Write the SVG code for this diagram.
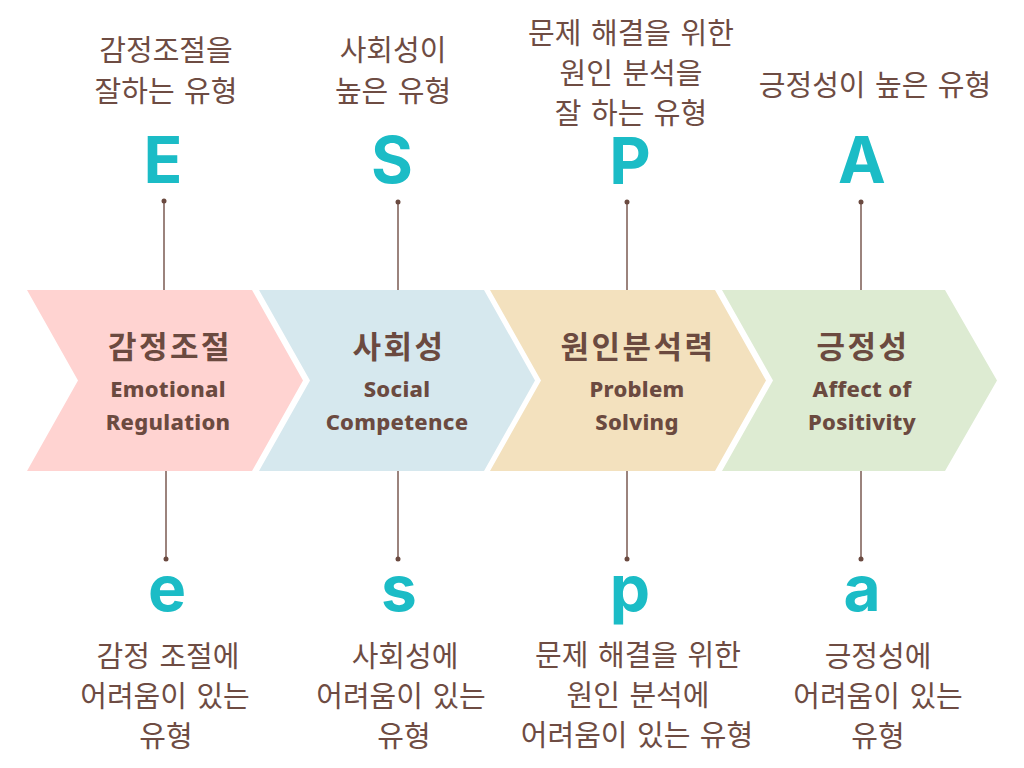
<svg xmlns="http://www.w3.org/2000/svg" width="1024" height="768" viewBox="0 0 1024 768">
<style>
.t{font-family:"Noto Sans CJK KR","Noto Sans",sans-serif;font-size:29px;fill:#6E4C43;text-anchor:middle;word-spacing:3px}
.big{font-family:Inter,"Noto Sans",sans-serif;font-weight:700;font-size:64px;fill:#1BBCC6;text-anchor:middle}
.ko{font-family:"Noto Sans CJK KR",sans-serif;font-weight:700;font-size:31px;fill:#6B4A40;text-anchor:middle;letter-spacing:2.5px}
.en{font-family:"Noto Sans","Noto Sans CJK KR",sans-serif;font-weight:800;font-size:22px;fill:#6B4A40;text-anchor:middle;letter-spacing:0.3px}
.ln{stroke:#7A5A52;stroke-width:1.5;fill:none}
.dot{fill:#6B4A40}
</style>
<rect width="1024" height="768" fill="#FFFFFF"/>
<g id="connectors">
<line class="ln" x1="164" y1="201" x2="164" y2="290"/><circle class="dot" cx="164" cy="201" r="2.5"/>
<line class="ln" x1="398" y1="202" x2="398" y2="290"/><circle class="dot" cx="398" cy="202" r="2.5"/>
<line class="ln" x1="627" y1="202" x2="627" y2="290"/><circle class="dot" cx="627" cy="202" r="2.5"/>
<line class="ln" x1="861" y1="202" x2="861" y2="290"/><circle class="dot" cx="861" cy="202" r="2.5"/>
<line class="ln" x1="166" y1="471" x2="166" y2="559"/><circle class="dot" cx="166" cy="559" r="2.5"/>
<line class="ln" x1="398" y1="471" x2="398" y2="559"/><circle class="dot" cx="398" cy="559" r="2.5"/>
<line class="ln" x1="627" y1="471" x2="627" y2="559"/><circle class="dot" cx="627" cy="559" r="2.5"/>
<line class="ln" x1="861" y1="471" x2="861" y2="559"/><circle class="dot" cx="861" cy="559" r="2.5"/>
</g>
<g id="node-emotional">
<polygon points="27,290 252,290 303,380.5 252,471 27,471 78,380.5" fill="#FFD3D1"/>
<text class="ko" x="170" y="358">감정조절</text>
<text class="en" x="168" y="397">Emotional</text>
<text class="en" x="168" y="430">Regulation</text>
</g>
<g id="node-social">
<polygon points="259,290 484,290 535,380.5 484,471 259,471 310,380.5" fill="#D6E8EE"/>
<text class="ko" x="399" y="358">사회성</text>
<text class="en" x="397" y="397">Social</text>
<text class="en" x="397" y="430">Competence</text>
</g>
<g id="node-problem">
<polygon points="490,290 715,290 766,380.5 715,471 490,471 541,380.5" fill="#F3E1BE"/>
<text class="ko" x="638" y="358">원인분석력</text>
<text class="en" x="637" y="397">Problem</text>
<text class="en" x="637" y="430">Solving</text>
</g>
<g id="node-positivity">
<polygon points="722,290 945,290 997,380.5 945,471 722,471 773,380.5" fill="#DDEBD2"/>
<text class="ko" x="863" y="358">긍정성</text>
<text class="en" x="862" y="397">Affect of</text>
<text class="en" x="862" y="430">Positivity</text>
</g>
<g id="top-E">
<text class="t" x="166" y="61">감정조절을</text>
<text class="t" x="166" y="102">잘하는 유형</text>
<text class="big" x="163" y="183">E</text>
</g>
<g id="top-S">
<text class="t" x="393" y="61">사회성이</text>
<text class="t" x="393" y="102">높은 유형</text>
<text class="big" x="392" y="183">S</text>
</g>
<g id="top-P">
<text class="t" x="631" y="44">문제 해결을 위한</text>
<text class="t" x="631" y="84">원인 분석을</text>
<text class="t" x="631" y="124">잘 하는 유형</text>
<text class="big" x="630" y="184">P</text>
</g>
<g id="top-A">
<text class="t" x="875" y="96">긍정성이 높은 유형</text>
<text class="big" x="862" y="183">A</text>
</g>
<g id="bottom-e">
<text class="big" x="167" y="611">e</text>
<text class="t" x="168" y="667">감정 조절에</text>
<text class="t" x="165" y="707">어려움이 있는</text>
<text class="t" x="166" y="747">유형</text>
</g>
<g id="bottom-s">
<text class="big" x="399" y="611">s</text>
<text class="t" x="405" y="667">사회성에</text>
<text class="t" x="401" y="707">어려움이 있는</text>
<text class="t" x="404" y="747">유형</text>
</g>
<g id="bottom-p">
<text class="big" x="630" y="611">p</text>
<text class="t" x="638" y="666">문제 해결을 위한</text>
<text class="t" x="638" y="706">원인 분석에</text>
<text class="t" x="637" y="746">어려움이 있는 유형</text>
</g>
<g id="bottom-a">
<text class="big" x="862" y="611">a</text>
<text class="t" x="878" y="667">긍정성에</text>
<text class="t" x="878" y="707">어려움이 있는</text>
<text class="t" x="878" y="747">유형</text>
</g>
</svg>
